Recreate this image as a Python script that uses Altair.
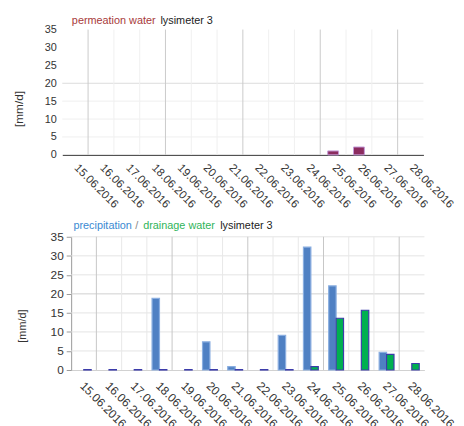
import altair as alt
import pandas as pd

# ---------------- data ----------------
dates = ["15.06.2016", "16.06.2016", "17.06.2016", "18.06.2016", "19.06.2016",
         "20.06.2016", "21.06.2016", "22.06.2016", "23.06.2016", "24.06.2016",
         "25.06.2016", "26.06.2016", "27.06.2016", "28.06.2016"]
permeation = [0, 0, 0, 0, 0, 0, 0, 0, 0, 0, 1.1, 2.2, 0, 0]
precipitation = [0, 0, 0, 18.8, 0, 7.4, 0.9, 0, 9.1, 32.3, 22.1, 0, 4.65, 0]
drainage = [0.1, 0.1, 0.1, 0.1, 0.1, 0.1, 0.1, 0.1, 0.1, 0.9, 13.6, 15.7, 4.1, 1.7]
y_ticks = [0, 5, 10, 15, 20, 25, 30, 35]
top_grid_values = [5, 10, 15, 20]
bot_grid_values = [5, 10, 15, 20, 25, 30, 35]
series_names = ["precipitation", "drainage"]

FONT = "Liberation Sans"
N = len(dates)

top_df = pd.DataFrame({"date": dates, "value": permeation})
bot_df = pd.concat([
    pd.DataFrame({"date": dates, "series": series_names[0], "value": precipitation}),
    pd.DataFrame({"date": dates, "series": series_names[1], "value": drainage}),
], ignore_index=True)
grid_df = pd.DataFrame({"idx": list(range(1, N))})
one = pd.DataFrame({"k": [0]})

# top panel plot area is shifted 9px left of the shared origin
SHIFT = 9
W1, H1 = 357, 127
W2, H2 = 358, 135
RANGE1 = [-SHIFT, W1]
RANGE2 = [0, W2]


def xscale(rng):
    return alt.Scale(domain=dates, paddingInner=0, paddingOuter=0, range=rng)


def gscale(rng):
    return alt.Scale(domain=[0, N], range=rng, zero=False, nice=False)


def yscale():
    return alt.Scale(domain=[0, 35])


def vgrid_layer(rng, major, minor):
    return alt.Chart(grid_df).mark_rule(strokeWidth=1).encode(
        x=alt.X("idx:Q", scale=gscale(rng), axis=None),
        color=alt.condition("datum.idx % 3 == 1", alt.value(major), alt.value(minor)),
    )


def hgrid_layer(rng, yaxis, values, major, minor):
    return alt.Chart(pd.DataFrame({"value": values})).mark_rule(strokeWidth=1).encode(
        x=alt.XDatum(0, type="quantitative", scale=gscale(rng), axis=None),
        x2=alt.X2Datum(N),
        y=alt.Y("value:Q", scale=yscale(), axis=yaxis),
        color=alt.condition("datum.value == 20", alt.value(major), alt.value(minor)),
    )


def text_layer(txt, x, y, color):
    return alt.Chart(one).mark_text(align="left", baseline="middle", font=FONT,
                                    fontSize=11, color=color).encode(
        x=alt.value(x), y=alt.value(y), text=alt.value(txt))


# ---------------- top panel ----------------
top_xaxis = alt.Axis(title=None, labelAngle=45, labelAlign="left", labelBaseline="top",
                     labelPadding=7, labelOffset=5, ticks=False, grid=False,
                     domainColor="#333333", labelFontSize=11.5, labelColor="#333333",
                     labelOverlap=False)
top_yaxis = alt.Axis(values=y_ticks, title="[mm/d]", domain=False, ticks=False, grid=False,
                     offset=SHIFT, labelPadding=6, labelFontSize=11, labelColor="#333333",
                     labelOverlap=False,
                     titleFontSize=12, titleFontWeight="normal", titleColor="#333333",
                     titleX=-44.5, titleY=80, titleBaseline="middle", titleAngle=270)

top_bars = alt.Chart(top_df).transform_filter("datum.value > 0").mark_bar(
    size=11, fill="#8b2c5f", stroke="#c39ad8", strokeWidth=1).encode(
    x=alt.X("date:N", scale=xscale(RANGE1), axis=top_xaxis),
    y=alt.Y("value:Q", scale=yscale(), axis=top_yaxis),
)

top = alt.layer(
    hgrid_layer(RANGE1, top_yaxis, top_grid_values, "#dcdcdc", "#efefef"),
    vgrid_layer(RANGE1, "#cacaca", "#f0f0f0"),
    top_bars,
    text_layer("permeation water", 0.7, -9, "#a83a3a"),
    text_layer("lysimeter 3", 90.5, -9, "#222222"),
).resolve_scale(x="independent").properties(width=W1, height=H1)

# ---------------- bottom panel ----------------
bot_xaxis = alt.Axis(title=None, labelAngle=45, labelAlign="left", labelBaseline="top",
                     labelPadding=10, labelOffset=2, ticks=False, grid=False,
                     domainColor="#d0d0d0", labelFontSize=12, labelColor="#333333",
                     labelOverlap=False)
bot_yaxis = alt.Axis(values=y_ticks, title="[mm/d]", domain=True, domainColor="#999999",
                     ticks=True, tickSize=5, tickColor="#999999", labelPadding=3, grid=False,
                     labelFontSize=12, labelColor="#333333", labelOverlap=False,
                     titleFontSize=11, titleFontWeight="normal", titleColor="#333333",
                     titleX=-49, titleY=90, titleBaseline="middle", titleAngle=270)

bot_bars = alt.Chart(bot_df).transform_filter("datum.value > 0").mark_bar(strokeWidth=1.2).encode(
    x=alt.X("date:N", scale=xscale(RANGE2), axis=bot_xaxis),
    xOffset=alt.XOffset("series:N", sort=series_names,
                        scale=alt.Scale(domain=series_names, paddingInner=0, paddingOuter=0.7)),
    y=alt.Y("value:Q", scale=yscale(), axis=bot_yaxis),
    fill=alt.Fill("series:N", scale=alt.Scale(domain=series_names, range=["#4f80c3", "#00b050"]),
                  legend=None),
    stroke=alt.Stroke("series:N", scale=alt.Scale(domain=series_names, range=["#8aaee0", "#3c3caa"]),
                      legend=None),
)

bottom = alt.layer(
    hgrid_layer(RANGE2, bot_yaxis, bot_grid_values, "#cfcfcf", "#e4e4e4"),
    vgrid_layer(RANGE2, "#c6c6c6", "#e8e8e8"),
    bot_bars,
    text_layer("precipitation", 2.3, -11, "#3a8ad2"),
    text_layer("/", 65, -11, "#888888"),
    text_layer("drainage water", 73, -11, "#2fb45a"),
    text_layer("lysimeter 3", 151, -11, "#222222"),
).resolve_scale(x="independent").properties(width=W2, height=H2)

chart = alt.vconcat(top, bottom, spacing=10).properties(
    padding={"left": 4, "top": 4, "right": 0, "bottom": 0}
).configure_view(strokeWidth=0).configure_axis(
    labelFont=FONT, titleFont=FONT
)

chart.save("out.html", embed_options={"renderer": "svg", "actions": False})
